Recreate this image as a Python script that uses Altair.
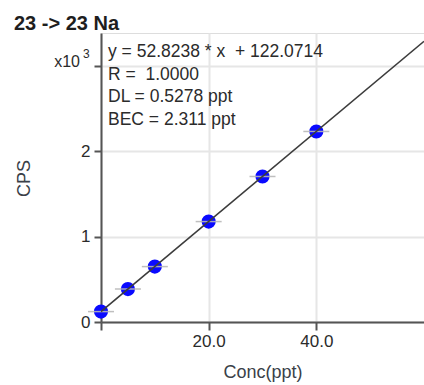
import altair as alt
import pandas as pd

# ---- data ----
conc = [0, 5, 10, 20, 30, 40]
cps = [122, 386, 650, 1178, 1707, 2235]
slope = [52.8238]
intercept = [122.0714]
r_value = ["1.0000"]
dl_value = ["0.5278"]
bec_value = ["2.311"]
x_domain = [0, 60]
y_domain = [0, 3390]
x_ticks = [0, 20, 40]
y_ticks = [0, 1000, 2000, 3000]

FONT = "Liberation Sans"

pts = pd.DataFrame({"conc": conc, "cps": cps})
line_df = pd.DataFrame({"conc": x_domain})

xs = alt.Scale(domain=x_domain, nice=False, zero=False)
ys = alt.Scale(domain=y_domain, nice=False, zero=False)

x_axis = alt.Axis(
    values=x_ticks, labelExpr="datum.value == 0 ? '' : format(datum.value, '.1f')",
    title="Conc(ppt)", titleFontSize=18, titleFontWeight="normal", titleColor="#3a3f48",
    titleBaseline="alphabetic", titleY=55, titleFont=FONT,
    labelFontSize=17, labelColor="#2b2b2b", labelFont=FONT, labelPadding=3,
    tickSize=8, tickWidth=2, tickColor="#555555",
    domainColor="#555555", domainWidth=2,
    grid=True, gridColor="#e6e6e6", gridWidth=2,
)
y_axis = alt.Axis(
    values=y_ticks, labelExpr="datum.value == 3000 ? '' : format(datum.value / 1000, 'd')",
    title="CPS", titleFontSize=18, titleFontWeight="normal", titleColor="#3a3f48",
    titleX=-77, titleY=145, titleAngle=270, titleAlign="center", titleBaseline="middle",
    titleFont=FONT,
    labelFontSize=17, labelColor="#2b2b2b", labelFont=FONT, labelPadding=4,
    tickSize=7, tickWidth=2, tickColor="#555555",
    domainColor="#555555", domainWidth=2,
    grid=True, gridColor="#e6e6e6", gridWidth=2,
)

points = alt.Chart(pts).mark_circle(size=200, color="#0a0aff", opacity=1).encode(
    x=alt.X("conc:Q", scale=xs, axis=x_axis),
    y=alt.Y("cps:Q", scale=ys, axis=y_axis),
)

errticks = alt.Chart(pts).mark_tick(
    orient="horizontal", size=26, thickness=1.5, color="#b8b8b8", opacity=0.9
).encode(x=alt.X("conc:Q", scale=xs), y=alt.Y("cps:Q", scale=ys))

fit = alt.Chart(line_df).transform_calculate(
    cps=f"{slope[0]} * datum.conc + {intercept[0]}"
).mark_line(color="#3c3c3c", strokeWidth=1.5, clip=True).encode(
    x=alt.X("conc:Q", scale=xs), y=alt.Y("cps:Q", scale=ys)
)

ann_text = "\n".join([
    f"y = {slope[0]:.4f} * x \u00a0+ {intercept[0]:.4f}",
    f"R = \u00a01.0000".replace("1.0000", r_value[0]),
    f"DL = {dl_value[0]} ppt",
    f"BEC = {bec_value[0]} ppt",
])
annotation = alt.Chart(pd.DataFrame({"t": [ann_text]})).mark_text(
    align="left", baseline="alphabetic", fontSize=17.5, font=FONT, color="#2b2b2b",
    lineBreak="\n", lineHeight=22.7,
).encode(x=alt.value(7), y=alt.value(24), text="t:N")

title = alt.Chart(pd.DataFrame({"t": ["23 -> 23 Na"]})).mark_text(
    align="left", baseline="alphabetic", fontSize=20, fontWeight="bold", font=FONT,
    color="#1e1e1e",
).encode(x=alt.value(-87), y=alt.value(-3), text="t:N")

mult = alt.Chart(pd.DataFrame({"t": ["x10"]})).mark_text(
    align="right", baseline="alphabetic", fontSize=16, font=FONT, color="#2b2b2b",
).encode(x=alt.value(-21), y=alt.value(34), text="t:N")
mult_exp = alt.Chart(pd.DataFrame({"t": ["3"]})).mark_text(
    align="left", baseline="alphabetic", fontSize=12, font=FONT, color="#2b2b2b",
).encode(x=alt.value(-18), y=alt.value(25), text="t:N")

chart = alt.layer(points, errticks, fit, annotation, title, mult, mult_exp).properties(
    width=323, height=289,
    autosize=alt.AutoSizeParams(type="none"),
    padding={"left": 101, "top": 33, "right": 0, "bottom": 63},
).configure_view(stroke=None).configure(background="white")

chart.save("out.html", embed_options={"renderer": "svg", "actions": False})
